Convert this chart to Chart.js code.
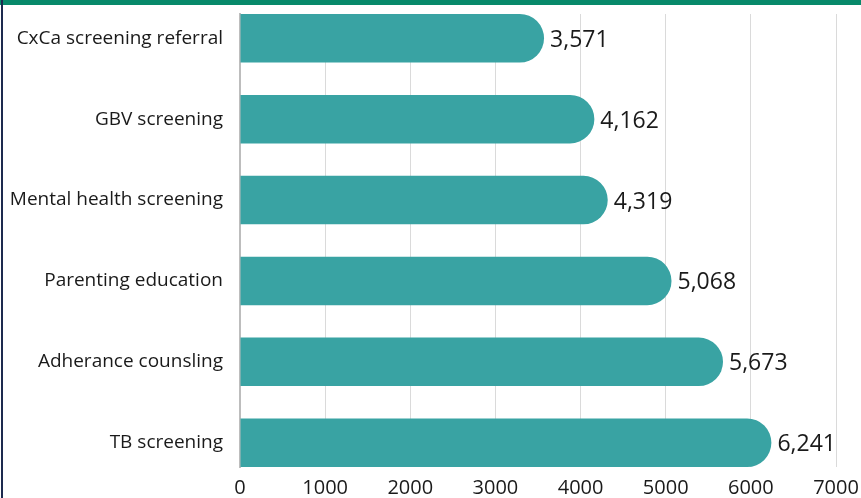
<!DOCTYPE html>
<html>
<head>
<meta charset="utf-8">
<script src="https://cdn.jsdelivr.net/npm/chart.js@4"></script>
<style>
html,body{margin:0;padding:0;background:#fff;}
#wrap{position:relative;width:861px;height:498px;overflow:hidden;}
#topbar{position:absolute;left:0;top:0;width:861px;height:5px;background:#07896a;}
#leftbar{position:absolute;left:1px;top:0;width:2px;height:498px;background:#1d2a4f;}
canvas{position:absolute;left:0;top:0;}
</style>
</head>
<body>
<div id="wrap">
<canvas id="grafico" width="861" height="498"></canvas>
<div id="topbar"></div>
<div id="leftbar"></div>
</div>
<script>
// dados
let categorias = ["CxCa screening referral","GBV screening","Mental health screening","Parenting education","Adherance counsling","TB screening"]
let valores = [3571,4162,4319,5068,5673,6241]
let ticksX = [0,1000,2000,3000,4000,5000,6000,7000]

let pontos = valores.map((v,i)=>({x:v,y:i}))

let fonte = "'Open Sans', Lato, sans-serif"

// rotulo de valor no fim de cada barra
let rotulos = {
id:"rotulos",
afterDatasetsDraw(chart){
let ctx = chart.ctx
let meta = chart.getDatasetMeta(0)
ctx.save()
ctx.font = "23px " + fonte
ctx.fillStyle = "#1a1a1a"
ctx.textBaseline = "middle"
ctx.textAlign = "left"
meta.data.forEach((bar,i)=>{
ctx.fillText(valores[i].toLocaleString("en-US"), bar.x + 6, bar.y + 2)
})
ctx.restore()
}
}

new Chart(document.getElementById("grafico"),{
type:"bar",
data:{
datasets:[{
data:pontos,
backgroundColor:"#39a3a3",
borderRadius:30,
borderSkipped:"start",
barPercentage:0.6,
categoryPercentage:1
}]
},
options:{
indexAxis:"y",
responsive:false,
animation:false,
layout:{padding:{top:14,right:25,bottom:0,left:0}},
plugins:{legend:{display:false},tooltip:{enabled:false}},
scales:{
x:{
type:"linear",
min:ticksX[0],
max:ticksX[ticksX.length-1],
afterFit(s){ s.height = 31; s.paddingLeft = 0; s.paddingRight = 0 },
afterBuildTicks(s){ s.ticks = ticksX.map(v=>({value:v})) },
grid:{color:"#dadada",lineWidth:1,drawTicks:false},
border:{display:false},
ticks:{color:"#1a1a1a",font:{family:fonte,size:20},padding:9,maxRotation:0,callback:(v)=>String(v)}
},
y:{
type:"linear",
reverse:true,
offset:false,
min:-0.3,
max:categorias.length-0.7,
afterFit(s){ s.width = 240; s.paddingTop = 0; s.paddingBottom = 0 },
afterBuildTicks(s){ s.ticks = categorias.map((c,i)=>({value:i})) },
grid:{display:false,offset:false},
border:{display:true,color:"#bdbdbd",width:2},
ticks:{
color:"#1a1a1a",
font:{family:fonte,size:19},
padding:9,
callback:(v)=>categorias[v] || ""
}
}
}
},
plugins:[rotulos]
})
</script>
</body>
</html>
